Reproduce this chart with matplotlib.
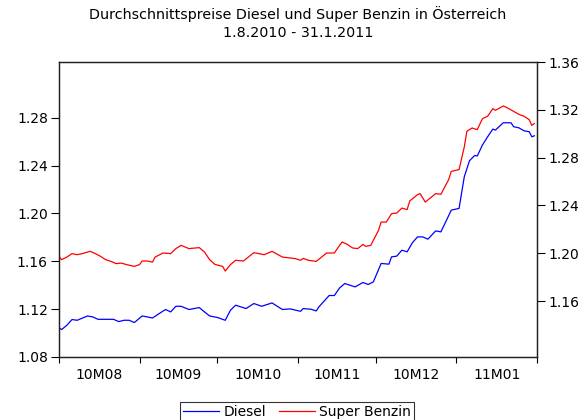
import matplotlib
matplotlib.use('Agg')
import matplotlib.pyplot as plt
import matplotlib.ticker as mticker
import pandas as pd

plt.rcParams['font.family'] = ['DejaVu Sans']
plt.rcParams['font.size'] = 10

diesel_day = [0, 1, 3, 5, 7, 11, 13, 15, 21, 23, 25, 27, 29, 32, 34, 36, 38, 41, 43, 45,
              47, 50, 54, 56, 58, 61, 64, 66, 68, 72, 75, 78, 82, 86, 89, 93, 94, 97, 99, 100,
              104, 106, 108, 110, 112, 114, 117, 119, 121, 124, 127, 128, 130, 132, 134, 136,
              138, 140, 142, 145, 147, 149, 151, 154, 156, 158, 160, 161, 163, 165, 167, 168,
              171, 174, 175, 177, 179, 181, 182, 183]
diesel = [1.1046, 1.1029, 1.1065, 1.1113, 1.1107, 1.1143, 1.1135, 1.1115, 1.1115, 1.1096,
          1.1107, 1.1107, 1.1088, 1.1143, 1.1135, 1.1126, 1.1155, 1.1197, 1.1177, 1.1224,
          1.1224, 1.1197, 1.1213, 1.1177, 1.1143, 1.1130, 1.1107, 1.1191, 1.1233, 1.1205,
          1.1247, 1.1224, 1.1252, 1.1197, 1.1202, 1.1182, 1.1205, 1.1199, 1.1185, 1.1218,
          1.1314, 1.1314, 1.1377, 1.1414, 1.1400, 1.1386, 1.1423, 1.1406, 1.1428, 1.1582,
          1.1576, 1.1637, 1.1643, 1.1693, 1.1679, 1.1754, 1.1804, 1.1804, 1.1785, 1.1854,
          1.1846, 1.1936, 1.2028, 1.2042, 1.2306, 1.2440, 1.2485, 1.2480, 1.2572, 1.2641,
          1.2705, 1.2697, 1.2758, 1.2758, 1.2725, 1.2716, 1.2691, 1.2683, 1.2641, 1.2649]

benzin_day = [0, 1, 3, 5, 7, 9, 11, 12, 14, 16, 18, 20, 22, 24, 26, 29, 31, 32, 34, 36,
              37, 40, 43, 45, 47, 50, 54, 56, 58, 60, 63, 64, 66, 68, 71, 75, 79, 82, 86, 88,
              91, 93, 94, 96, 99, 100, 103, 106, 108, 109, 111, 113, 115, 117, 118, 120, 123,
              124, 126, 128, 130, 132, 134, 135, 138, 139, 141, 145, 147, 150, 151, 154, 156,
              157, 159, 161, 163, 165, 167, 168, 171, 172, 175, 177, 179, 181, 182, 183]
benzin = [1.1974, 1.1946, 1.1968, 1.1997, 1.1988, 1.1997, 1.2010, 1.2016, 1.1997, 1.1974,
          1.1946, 1.1932, 1.1913, 1.1918, 1.1905, 1.1890, 1.1905, 1.1935, 1.1935, 1.1926,
          1.1968, 1.2002, 1.1997, 1.2039, 1.2066, 1.2039, 1.2047, 1.2010, 1.1946, 1.1907,
          1.1890, 1.1851, 1.1905, 1.1941, 1.1935, 1.2005, 1.1988, 1.2016, 1.1968, 1.1963,
          1.1955, 1.1941, 1.1957, 1.1941, 1.1932, 1.1949, 1.2002, 1.2002, 1.2066, 1.2094,
          1.2074, 1.2044, 1.2039, 1.2074, 1.2058, 1.2066, 1.2192, 1.2261, 1.2261, 1.2331,
          1.2336, 1.2378, 1.2365, 1.2437, 1.2490, 1.2499, 1.2428, 1.2499, 1.2493, 1.2616,
          1.2685, 1.2700, 1.2889, 1.3020, 1.3048, 1.3034, 1.3126, 1.3146, 1.3210, 1.3196,
          1.3232, 1.3223, 1.3187, 1.3162, 1.3146, 1.3118, 1.3070, 1.3085]

month_labels = ['10M08', '10M09', '10M10', '10M11', '10M12', '11M01']
left_ticks = [1.08, 1.12, 1.16, 1.20, 1.24, 1.28]
right_ticks = [1.16, 1.20, 1.24, 1.28, 1.32, 1.36]

start = pd.Timestamp('2010-08-01')
diesel_dates = start + pd.to_timedelta(diesel_day, unit='D')
benzin_dates = start + pd.to_timedelta(benzin_day, unit='D')
month_starts = pd.date_range('2010-08-01', '2011-02-01', freq='MS')
month_mid = month_starts[:-1] + (month_starts[1:] - month_starts[:-1]) / 2

fig = plt.figure(figsize=(5.82, 4.2), dpi=100)
ax1 = fig.add_axes([59 / 582, 1 - 357 / 420, (537 - 59) / 582, (357 - 62) / 420])
ax2 = ax1.twinx()

l1, = ax1.plot(diesel_dates, diesel, color='#0000ff', lw=0.9, label='Diesel')
l2, = ax2.plot(benzin_dates, benzin, color='#ff0000', lw=0.9, label='Super Benzin')

ax1.set_xlim(month_starts[0], month_starts[-1])
ax1.set_ylim(1.08, 1.3266)
ax2.set_ylim(1.1132, 1.36)

ax1.set_yticks(left_ticks)
ax2.set_yticks(right_ticks)
ax1.yaxis.set_major_formatter(mticker.FormatStrFormatter('%.2f'))
ax2.yaxis.set_major_formatter(mticker.FormatStrFormatter('%.2f'))

# Monatsgrenzen als Striche, Beschriftung in der Monatsmitte
ax1.set_xticks(month_starts)
ax1.set_xticklabels([''] * len(month_starts))
ax1.set_xticks(month_mid, minor=True)
ax1.set_xticklabels(month_labels, minor=True)
ax1.tick_params(axis='x', which='major', length=4, width=0.8, direction='out')
ax1.tick_params(axis='x', which='minor', length=0, pad=8)
ax1.tick_params(axis='y', length=5.5, width=0.8, pad=2.5, colors='black')
ax2.tick_params(axis='y', length=5.8, width=0.8, pad=2.5, colors='black')

for ax in (ax1, ax2):
    for s in ax.spines.values():
        s.set_linewidth(0.9)
        s.set_color('#222222')

fig.text(298 / 582, 1 - 19 / 420, 'Durchschnittspreise Diesel und Super Benzin in Österreich',
         ha='center', va='baseline', fontsize=10.3)
fig.text(298 / 582, 1 - 37 / 420, '1.8.2010 - 31.1.2011', ha='center', va='baseline', fontsize=10.3)

leg = fig.legend([l1, l2], ['Diesel', 'Super Benzin'], loc='upper center',
                 bbox_to_anchor=(297 / 582, 1 - 402 / 420), ncol=2, frameon=True,
                 fancybox=False, edgecolor='black', handlelength=2.6, handletextpad=0.3,
                 columnspacing=0.9, borderpad=0.2, borderaxespad=0, fontsize=10)
leg.get_frame().set_linewidth(0.8)

plt.savefig('out.png', dpi=100)
